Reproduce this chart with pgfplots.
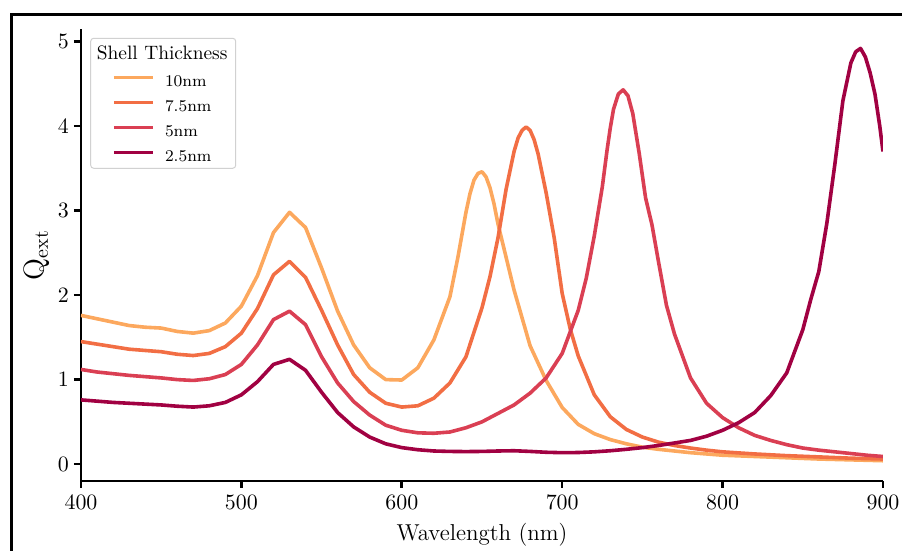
\documentclass[border=0pt]{standalone}
\usepackage{pgfplots}
\pgfplotsset{compat=1.18}

\definecolor{shellA}{RGB}{252,168,94}
\definecolor{shellB}{RGB}{242,110,68}
\definecolor{shellC}{RGB}{218,63,83}
\definecolor{shellD}{RGB}{161,1,66}

% Extinction efficiency versus wavelength, one table per shell thickness
\pgfplotstableread{
lam q
400 1.76
410 1.72
420 1.68
430 1.64
440 1.62
450 1.61
460 1.57
470 1.55
480 1.58
490 1.67
500 1.87
510 2.23
520 2.74
530 2.98
540 2.80
550 2.32
560 1.81
570 1.41
580 1.14
590 1.00
600 0.995
610 1.14
620 1.47
630 1.98
635 2.45
640 2.98
642.5 3.20
645 3.36
647.5 3.44
650 3.46
652.5 3.40
655 3.27
657.5 3.08
660 2.84
665 2.45
670 2.06
680 1.40
690 0.99
700 0.67
710 0.47
720 0.36
730 0.29
740 0.24
750 0.20
760 0.175
770 0.155
780 0.135
790 0.12
800 0.105
820 0.09
840 0.075
860 0.06
880 0.05
900 0.04
}\tenNm

\pgfplotstableread{
lam q
400 1.45
410 1.42
420 1.39
430 1.36
440 1.345
450 1.33
460 1.30
470 1.285
480 1.31
490 1.39
500 1.55
510 1.84
520 2.24
530 2.40
540 2.21
550 1.82
560 1.41
570 1.06
580 0.85
590 0.72
600 0.675
610 0.69
620 0.78
630 0.96
640 1.27
650 1.85
655 2.22
660 2.68
665 3.25
670 3.70
672.5 3.86
675 3.95
677.5 3.99
680 3.95
682.5 3.84
685 3.67
690 3.21
695 2.68
700 2.02
705 1.60
710 1.28
720 0.82
730 0.56
740 0.41
750 0.32
760 0.26
770 0.22
780 0.19
790 0.165
800 0.145
820 0.12
840 0.10
860 0.085
880 0.07
900 0.06
}\sevenFiveNm

\pgfplotstableread{
lam q
400 1.12
410 1.09
420 1.07
430 1.05
440 1.035
450 1.02
460 1.00
470 0.99
480 1.01
490 1.06
500 1.18
510 1.41
520 1.71
530 1.81
540 1.65
550 1.27
560 0.96
570 0.74
580 0.58
590 0.46
600 0.40
610 0.37
620 0.365
630 0.38
640 0.43
650 0.50
660 0.60
670 0.70
680 0.84
690 1.02
700 1.31
710 1.82
715 2.20
720 2.70
725 3.28
728 3.72
730 3.98
732 4.20
735 4.38
738 4.43
741 4.36
744 4.15
748 3.68
752 3.15
756 2.83
760 2.40
765 1.88
770 1.54
780 1.02
790 0.72
800 0.55
810 0.43
820 0.34
830 0.28
840 0.23
850 0.19
860 0.165
870 0.145
880 0.125
890 0.105
900 0.09
}\fiveNm

\pgfplotstableread{
lam q
400 0.76
410 0.745
420 0.73
430 0.72
440 0.71
450 0.70
460 0.685
470 0.675
480 0.69
490 0.73
500 0.82
510 0.975
520 1.18
530 1.24
540 1.11
550 0.85
560 0.61
570 0.44
580 0.32
590 0.24
600 0.195
610 0.17
620 0.155
630 0.15
640 0.148
650 0.15
660 0.155
670 0.158
680 0.15
690 0.14
700 0.135
710 0.137
720 0.145
730 0.158
740 0.175
750 0.195
760 0.22
770 0.25
780 0.28
790 0.33
800 0.40
810 0.49
820 0.61
830 0.81
840 1.08
850 1.59
855 1.95
860 2.28
865 2.85
870 3.55
875 4.30
880 4.75
883 4.88
886 4.92
889 4.82
892 4.63
895 4.38
898 4.00
900 3.70
}\twoFiveNm

\begin{document}
\begin{tikzpicture}
\useasboundingbox (0,0) rectangle (451pt,275.5pt);
\clip (0,0) rectangle (451pt,275.5pt);
% figure frame
\draw[line width=1.35pt] (5.6pt,-5pt) -- (5.6pt,268.2pt) -- (460pt,268.2pt);
\begin{axis}[
  at={(40.5pt,35pt)}, anchor=south west,
  scale only axis, width=401pt, height=226pt,
  xmin=400, xmax=900, ymin=-0.2, ymax=5.15,
  axis lines=left,
  axis line style={-, line width=1.3pt},
  xtick={400,500,...,900}, ytick={0,1,2,3,4,5},
  tick align=outside, major tick length=3.5pt,
  every tick/.style={line width=1.3pt, black},
  ticklabel style={font=\fontsize{11}{13}\selectfont},
  yticklabel style={xshift=1pt},
  xlabel={Wavelength (nm)},
  ylabel={$\mathrm{Q}_{\mathrm{ext}}$},
  xlabel style={font=\fontsize{11.5}{13}\selectfont},
  ylabel style={font=\fontsize{14}{16}\selectfont},
  ylabel shift=-2.5pt,
  legend cell align=left,
  legend image code/.code={\draw[#1] (0pt,2.6pt) -- (19.5pt,2.6pt);},
  legend style={draw=none, fill=none, inner sep=0pt, outer sep=0pt,
    at={(rel axis cs:0.0387,0.8964)}, anchor=north west,
    font=\fontsize{8.2}{10}\selectfont, row sep=5.45pt, column sep=5.2pt,
    nodes={inner sep=0pt, outer sep=0pt}},
  every axis plot/.append style={line width=1.8pt, line join=round},
]
\draw[draw=black!18, line width=0.5pt, fill=white, fill opacity=0.8, rounded corners=1.5pt]
  (rel axis cs:0.0121,0.6918) rectangle (rel axis cs:0.1929,0.9794);
\node[anchor=base, font=\fontsize{9.7}{11}\selectfont, inner sep=0pt]
  at (rel axis cs:0.1012,0.933) {Shell Thickness};
\addplot[shellA] table[x=lam, y=q] {\tenNm};
\addlegendentry{10nm}
\addplot[shellB] table[x=lam, y=q] {\sevenFiveNm};
\addlegendentry{7.5nm}
\addplot[shellC] table[x=lam, y=q] {\fiveNm};
\addlegendentry{5nm}
\addplot[shellD] table[x=lam, y=q] {\twoFiveNm};
\addlegendentry{2.5nm}
\end{axis}
\end{tikzpicture}
\end{document}
